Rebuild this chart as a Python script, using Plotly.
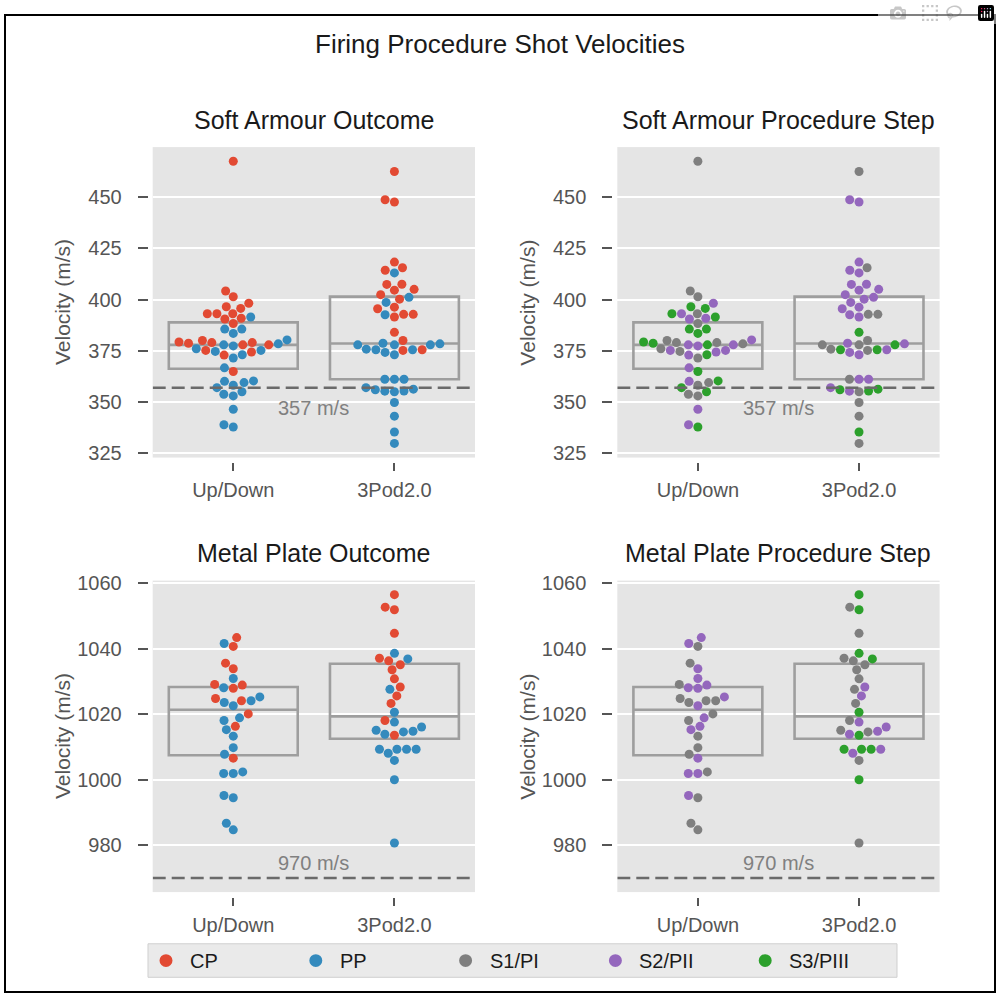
import numpy as np
import plotly.graph_objects as go

# ---------------- data ----------------
CATEGORIES = ["Up/Down", "3Pod2.0"]
OUTCOMES = ["CP", "PP"]
STEPS = ["S1", "S2", "S3"]
STEP_LABELS = {"CP": "CP", "PP": "PP", "S1": "S1/PI", "S2": "S2/PII", "S3": "S3/PIII"}
LEGEND_KEYS = ["CP", "PP", "S1", "S2", "S3"]

SOFT_UD_VEL = [467.5, 404.2, 401.4, 398.2, 396.5, 395.7, 393.1, 393.1, 393.1, 390.5, 390.9, 391.5,
               388.3, 385.6, 385.6, 383.5, 379.3, 378.4, 380.0, 379.0, 376.0, 375.2, 374.7, 377.9,
               377.4, 372.9, 371.5, 373.1, 377.9, 379.0, 374.4, 375.2, 377.9, 378.7, 380.3, 366.7,
               364.9, 360.3, 357.0, 353.8, 358.2, 353.0, 355.0, 359.5, 360.1, 346.5, 338.9, 337.8]
SOFT_UD_OUTCOME = ["CP", "CP", "CP", "CP", "CP", "CP", "CP", "CP", "CP", "CP", "CP",
                   "PP", "CP", "PP", "PP", "PP", "CP", "PP", "CP", "CP", "PP", "CP", "PP",
                   "PP", "PP", "CP", "PP", "PP", "CP", "CP", "CP", "PP", "CP", "CP", "PP",
                   "PP", "CP",
                   "PP", "PP", "PP", "PP", "PP", "PP", "PP", "PP", "PP", "PP", "PP"]
SOFT_UD_STEP = ["S1", "S1", "S1", "S2", "S3", "S3", "S1", "S2", "S3", "S2", "S2", "S3",
                "S1", "S3", "S3", "S3", "S3", "S1", "S1", "S1", "S1", "S2", "S1", "S2",
                "S2", "S2", "S1", "S3", "S3", "S1", "S2", "S2", "S2", "S3", "S2", "S2",
                "S3", "S3", "S3", "S1", "S1", "S1", "S3", "S1", "S2", "S2", "S2", "S3"]

SOFT_3P_VEL = [462.5, 448.7, 447.6, 418.3, 415.5, 414.3, 413.0, 407.5, 407.4, 404.6, 405.0, 402.4,
               401.1, 400.2, 398.6, 396.3, 395.5, 392.8, 391.5, 392.6, 392.8, 384.0, 380.0, 378.4,
               377.9, 375.8, 375.5, 378.7, 374.2, 377.9, 373.1, 375.2, 375.5, 375.5, 377.9, 361.1,
               361.1, 361.1, 356.3, 355.0, 355.4, 356.0, 355.3, 357.0, 349.8, 343.1, 335.4, 329.8]
SOFT_3P_OUTCOME = ["CP", "CP", "CP", "CP", "CP", "CP", "PP", "CP", "CP", "CP", "CP", "CP",
                   "PP", "CP", "PP", "CP", "CP", "CP", "CP", "PP", "CP", "CP", "CP", "PP",
                   "PP", "PP", "PP", "PP", "PP", "PP", "PP", "CP", "PP", "CP", "PP", "PP",
                   "PP", "PP", "PP", "PP", "PP", "PP", "PP", "PP", "PP", "PP", "PP", "PP"]
SOFT_3P_STEP = ["S1", "S2", "S2", "S2", "S1", "S2", "S2", "S2", "S2", "S2", "S2", "S2",
                "S2", "S2", "S2", "S2", "S2", "S1", "S2", "S2", "S1", "S3", "S1", "S2",
                "S1", "S1", "S3", "S2", "S2", "S3", "S2", "S1", "S3", "S2", "S1", "S2",
                "S1", "S2", "S3", "S1", "S3", "S3", "S2", "S2", "S1", "S1", "S3", "S1"]

METAL_UD_VEL = [1041.6, 1043.4, 1040.7, 1035.6, 1033.9, 1030.9, 1028.9, 1027.9, 1028.1, 1029.1,
                1024.8, 1023.6, 1022.6, 1024.1, 1024.1, 1025.3, 1020.1, 1018.9, 1018.1, 1016.3,
                1015.3, 1013.3, 1009.8, 1007.8, 1006.6, 1001.9, 1001.9, 1002.4, 995.2, 994.5,
                986.7, 984.7]
METAL_UD_OUTCOME = ["PP", "CP", "CP", "CP", "CP", "PP", "CP", "CP", "PP", "CP",
                    "CP", "PP", "PP", "CP", "PP", "PP", "CP", "PP", "PP", "CP",
                    "PP", "PP", "PP", "PP", "CP", "PP", "PP", "PP", "PP", "PP",
                    "PP", "PP"]
METAL_UD_STEP = ["S2", "S2", "S1", "S1", "S2", "S2", "S2", "S2", "S2", "S1",
                 "S1", "S1", "S2", "S1", "S1", "S2", "S1", "S2", "S1", "S2",
                 "S2", "S1", "S1", "S1", "S2", "S2", "S2", "S1", "S2", "S1",
                 "S1", "S1"]

METAL_3P_VEL = [1056.5, 1052.7, 1051.9, 1044.7, 1038.6, 1037.1, 1036.3, 1036.9, 1035.1, 1033.6,
                1030.8, 1028.3, 1027.6, 1025.6, 1023.3, 1020.6, 1018.1, 1017.6, 1016.1, 1014.8,
                1013.9, 1013.6, 1014.6, 1015.1, 1009.3, 1008.1, 1009.3, 1009.3, 1009.3, 1005.9,
                1000.0, 980.7]
METAL_3P_OUTCOME = ["CP", "CP", "CP", "CP", "PP", "CP", "CP", "PP", "CP", "CP",
                    "CP", "CP", "PP", "CP", "CP", "PP", "CP", "PP", "PP", "PP",
                    "PP", "CP", "PP", "PP", "PP", "PP", "PP", "PP", "PP", "PP",
                    "PP", "PP"]
METAL_3P_STEP = ["S3", "S1", "S3", "S1", "S3", "S1", "S1", "S3", "S1", "S1",
                 "S1", "S2", "S1", "S2", "S1", "S3", "S1", "S2", "S2", "S2",
                 "S2", "S3", "S1", "S1", "S3", "S2", "S3", "S3", "S2", "S1",
                 "S3", "S1"]

SOFT_LIMIT = 357
METAL_LIMIT = 970
SOFT_TICKS = [325, 350, 375, 400, 425, 450]
METAL_TICKS = [980, 1000, 1020, 1040, 1060]
MAIN_TITLE = "Firing Procedure Shot Velocities"
PANEL_TITLES = ["Soft Armour Outcome", "Soft Armour Procedure Step",
                "Metal Plate Outcome", "Metal Plate Procedure Step"]
Y_LABEL = "Velocity (m/s)"

# ---------------- style / layout ----------------
COLORS = {"CP": "#E24A33", "PP": "#348ABD", "S1": "#7F7F7F", "S2": "#9467BD", "S3": "#2CA02C"}
W, H = 1000, 1003
COL_X = [(152.7, 475.0), (617.3, 939.6)]       # px from left
ROW_Y = [(141.2, 456.4), (581.3, 897.5)]       # px from top
Y_RANGES = [(322.9, 474.4), (965.7, 1060.8)]
X_RANGE = (-0.5, 1.5)
GAP = 5
MARKER = 9
SWARM_D = 9.6
TICK_COLOR = "#555555"
FONT = "Liberation Sans, Arial, sans-serif"
LEG_BOX = (148, 950, 897, 984)   # px: left, top, right, bottom

rows = [
    dict(cats=[(SOFT_UD_VEL, SOFT_UD_OUTCOME, SOFT_UD_STEP), (SOFT_3P_VEL, SOFT_3P_OUTCOME, SOFT_3P_STEP)],
         limit=SOFT_LIMIT, ticks=SOFT_TICKS, below=True),
    dict(cats=[(METAL_UD_VEL, METAL_UD_OUTCOME, METAL_UD_STEP), (METAL_3P_VEL, METAL_3P_OUTCOME, METAL_3P_STEP)],
         limit=METAL_LIMIT, ticks=METAL_TICKS, below=False),
]


def px_x(px):
    return px / W


def px_y(py):
    return 1 - py / H


def beeswarm(values, px_per_unit, d):
    y = np.asarray(values, dtype=float) * px_per_unit
    order = np.argsort(y, kind="stable")
    xs = np.zeros(len(y))
    px_l, py_l = [], []
    for i in order:
        yi = y[i]
        neigh = [(px, py) for px, py in zip(px_l, py_l) if abs(py - yi) < d]
        cands = [0.0]
        for px, py in neigh:
            dx = np.sqrt(max(d * d - (py - yi) ** 2, 0.0))
            cands.extend([px - dx, px + dx])
        cands = sorted(cands, key=lambda c: (round(abs(c), 6), c))
        for c in cands:
            if all((c - px) ** 2 + (yi - py) ** 2 >= d * d - 1e-6 for px, py in neigh):
                xs[i] = c
                break
        px_l.append(xs[i])
        py_l.append(yi)
    return xs


fig = go.Figure()
layout = dict(annotations=[], shapes=[])
px_per_x = (COL_X[0][1] - COL_X[0][0]) / (X_RANGE[1] - X_RANGE[0])

for r, row in enumerate(rows):
    y0p, y1p = ROW_Y[r]
    yr = Y_RANGES[r]
    px_per_y = (y1p - y0p) / (yr[1] - yr[0])
    xs_all, vs_all, oc_all, st_all = [], [], [], []
    for ci, (vel, oc, st) in enumerate(row["cats"]):
        assert len(vel) == len(oc) == len(st)
        offs = beeswarm(vel, px_per_y, SWARM_D) / px_per_x
        xs_all += list(ci + offs)
        vs_all += list(vel)
        oc_all += list(oc)
        st_all += list(st)
    xs_all = np.array(xs_all)
    vs_all = np.array(vs_all)
    q = [np.percentile(v, [25, 50, 75]) for v, _, _ in row["cats"]]

    for c in range(2):
        k = r * 2 + c + 1
        xn = "x" if k == 1 else f"x{k}"
        yn = "y" if k == 1 else f"y{k}"
        x0p, x1p = COL_X[c]

        fig.add_trace(go.Box(
            x=[0, 1], q1=[qq[0] for qq in q], median=[qq[1] for qq in q], q3=[qq[2] for qq in q],
            lowerfence=[qq[0] for qq in q], upperfence=[qq[2] for qq in q],
            width=0.8, whiskerwidth=0, fillcolor="rgba(0,0,0,0)",
            line=dict(color="#9E9E9E", width=2.6), boxpoints=False,
            showlegend=False, hoverinfo="skip", xaxis=xn, yaxis=yn))

        groups = OUTCOMES if c == 0 else STEPS
        labels = np.array(oc_all) if c == 0 else np.array(st_all)
        for g in groups:
            m = labels == g
            fig.add_trace(go.Scatter(
                x=xs_all[m], y=vs_all[m], mode="markers",
                marker=dict(size=MARKER, color=COLORS[g], line=dict(width=0)),
                name=STEP_LABELS[g], showlegend=False, hoverinfo="skip", xaxis=xn, yaxis=yn))

        fig.add_trace(go.Scatter(
            x=list(X_RANGE), y=[row["limit"], row["limit"]], mode="lines",
            line=dict(color="#6A6A6A", width=2.6, dash="13px,6px"),
            showlegend=False, hoverinfo="skip", xaxis=xn, yaxis=yn))
        layout["annotations"].append(dict(
            x=0.5, y=row["limit"], xref=xn, yref=yn, text=f"{row['limit']} m/s",
            showarrow=False, xanchor="center",
            yanchor="top" if row["below"] else "bottom",
            yshift=-7 if row["below"] else 2,
            font=dict(size=20, color="#808080", family=FONT)))

        axkey_x = "xaxis" if k == 1 else f"xaxis{k}"
        axkey_y = "yaxis" if k == 1 else f"yaxis{k}"
        layout[axkey_x] = dict(
            domain=[px_x(x0p), px_x(x1p)], range=list(X_RANGE), anchor="free",
            position=px_y(y1p + GAP), tickmode="array", tickvals=[0, 1], ticktext=CATEGORIES,
            ticks="outside", ticklen=8, tickwidth=1.5, tickcolor=TICK_COLOR,
            tickfont=dict(size=20, color=TICK_COLOR, family=FONT), ticklabelstandoff=2,
            showgrid=False, zeroline=False, showline=False, fixedrange=True)
        layout[axkey_y] = dict(
            domain=[px_y(y1p), px_y(y0p)], range=list(yr), anchor="free",
            position=px_x(x0p - GAP), tickmode="array", tickvals=row["ticks"],
            ticks="outside", ticklen=10, tickwidth=1.5, tickcolor=TICK_COLOR,
            tickfont=dict(size=20, color=TICK_COLOR, family=FONT), ticklabelstandoff=12,
            showgrid=True, gridcolor="white", gridwidth=1.6, zeroline=False, showline=False,
            fixedrange=True)

        layout["annotations"].append(dict(
            x=px_x((x0p + x1p) / 2), y=px_y(y0p - 28), xref="paper", yref="paper",
            text=PANEL_TITLES[k - 1], showarrow=False, xanchor="center", yanchor="middle",
            font=dict(size=25, color="#1a1a1a", family=FONT)))
        layout["annotations"].append(dict(
            x=px_x(x0p - 90), y=px_y((y0p + y1p) / 2), xref="paper", yref="paper",
            text=Y_LABEL, textangle=-90, showarrow=False, xanchor="center", yanchor="middle",
            font=dict(size=21, color=TICK_COLOR, family=FONT)))

layout["annotations"].append(dict(
    x=0.5, y=px_y(37), xref="paper", yref="paper", text=MAIN_TITLE, showarrow=False,
    xanchor="center", yanchor="middle", font=dict(size=26, color="#1a1a1a", family=FONT)))

# figure frame
layout["shapes"].append(dict(
    type="rect", xref="paper", yref="paper", x0=px_x(5), x1=px_x(995), y0=px_y(999), y1=px_y(7),
    line=dict(color="black", width=2), fillcolor="rgba(0,0,0,0)"))

# legend (drawn as a framed row of keys)
lx0, ly0, lx1, ly1 = LEG_BOX
layout["shapes"].append(dict(
    type="rect", xref="paper", yref="paper", x0=px_x(lx0), x1=px_x(lx1), y0=px_y(ly1), y1=px_y(ly0),
    line=dict(color="#CFCFCF", width=1), fillcolor="#EAEAEA", layer="below"))
col_w = (lx1 - lx0) / len(LEGEND_KEYS)
cy = (ly0 + ly1) / 2
for i, key in enumerate(LEGEND_KEYS):
    cx = lx0 + i * col_w + 18
    layout["shapes"].append(dict(
        type="circle", xref="paper", yref="paper", x0=px_x(cx - 6.5), x1=px_x(cx + 6.5),
        y0=px_y(cy + 6.5), y1=px_y(cy - 6.5), fillcolor=COLORS[key], line=dict(width=0)))
    layout["annotations"].append(dict(
        x=px_x(cx + 22), y=px_y(cy), xref="paper", yref="paper", text=STEP_LABELS[key],
        showarrow=False, xanchor="left", yanchor="middle",
        font=dict(size=20, color="#1a1a1a", family=FONT)))

fig.update_layout(
    **layout,
    width=W, height=H, autosize=False,
    margin=dict(l=0, r=0, t=0, b=0),
    paper_bgcolor="white", plot_bgcolor="#E5E5E5",
    hovermode=False, showlegend=False,
    font=dict(family=FONT, color="#1a1a1a"),
)

fig.write_html("out.html", post_script="document.body.style.margin='0';document.body.style.overflow='hidden';")
